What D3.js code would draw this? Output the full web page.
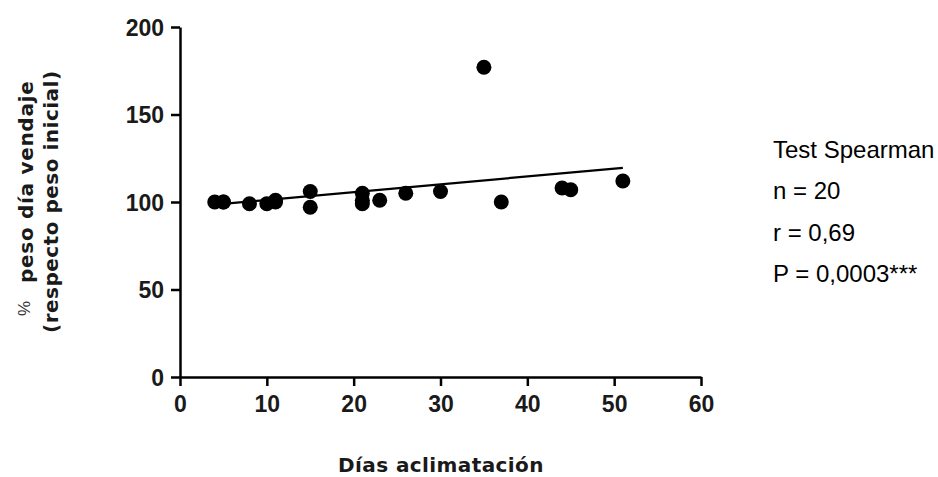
<!DOCTYPE html>
<html>
  <head>
    <meta charset="utf-8">
    <title>Peso día vendaje vs días aclimatación</title>
    <script src="https://d3js.org/d3.v7.min.js"></script>
    <style>
      body { margin: 0; background: #fff; }
      #chart { width: 938px; height: 477px; display: block; }
      .axis path, .axis line { stroke: #000; stroke-width: 2.5px; }
      .axis text { font-family: "Liberation Sans", Arial, sans-serif; font-weight: bold; font-size: 23px; fill: #1a1a1a; }
      .title { font-family: "DejaVu Sans", sans-serif; font-weight: bold; fill: #1a1a1a; }
      .stats { font-family: "Liberation Sans", Arial, sans-serif; font-size: 24px; fill: #000; }
    </style>
  </head>
  <body>
    <svg id="chart">
      <g id="xAxisGroup" class="axis"></g>
      <g id="yAxisGroup" class="axis"></g>
      <g id="chartGroup"></g>
      <g id="labelGroup"></g>
    </svg>
    <script>
      // data
      var dias = [4, 5, 5, 8, 10, 11, 11, 15, 15, 21, 21, 21, 23, 26, 30, 35, 37, 44, 45, 51];
      var peso = [100, 100, 100, 99, 99, 100, 101, 106, 97, 105, 101, 99, 101, 105, 106, 177, 100, 108, 107, 112];
      var fitX = [4, 51];
      var fitY = [98.5, 119.5];
      var xTicks = [0, 10, 20, 30, 40, 50, 60];
      var yTicks = [0, 50, 100, 150, 200];
      var statLines = ["Test Spearman", "n = 20", "r = 0,69", "P = 0,0003***"];

      var points = dias.map(function(d, i) { return { x: d, y: peso[i] }; });
      var fit = fitX.map(function(d, i) { return { x: d, y: fitY[i] }; });

      var chartGroup = d3.select("#chartGroup");
      var labelGroup = d3.select("#labelGroup");

      var x = d3.scaleLinear().domain([0, 60]).range([180, 701]);
      var y = d3.scaleLinear().domain([0, 200]).range([377, 27]);

      var xAxis = d3.axisBottom(x)
        .tickValues(xTicks)
        .tickSizeInner(9)
        .tickSizeOuter(0);
      var yAxis = d3.axisLeft(y)
        .tickValues(yTicks)
        .tickSizeInner(9)
        .tickSizeOuter(0)
        .tickPadding(7);

      d3.select("#xAxisGroup")
        .attr("transform", "translate(0," + y(0) + ")")
        .call(xAxis);
      d3.select("#yAxisGroup")
        .attr("transform", "translate(" + x(0) + ",0)")
        .call(yAxis);
      d3.select("#xAxisGroup").selectAll("text").attr("dy", null).attr("y", 35);
      d3.select("#yAxisGroup").selectAll("text").attr("dy", "0.36em");

      // fitted line
      var line = d3.line()
        .x(function(d) { return x(d.x); })
        .y(function(d) { return y(d.y); });
      chartGroup.append("path")
        .attr("d", line(fit))
        .attr("fill", "none")
        .attr("stroke", "#000")
        .attr("stroke-width", 2.2);

      chartGroup.selectAll("circle")
        .data(points)
        .enter().append("circle")
          .attr("cx", function(d) { return x(d.x); })
          .attr("cy", function(d) { return y(d.y); })
          .attr("r", 7.5)
          .attr("fill", "#000");

      // axis titles
      labelGroup.append("text")
        .attr("class", "title")
        .attr("x", 441)
        .attr("y", 472)
        .attr("text-anchor", "middle")
        .style("font-size", "20px")
        .style("letter-spacing", "0.4px")
        .text("Días aclimatación");

      labelGroup.append("text")
        .attr("transform", "translate(30,316) rotate(-90)")
        .style("font-family", "Liberation Sans, Arial, sans-serif")
        .style("font-size", "17px")
        .style("fill", "#333")
        .text("%");

      labelGroup.append("text")
        .attr("class", "title")
        .attr("transform", "translate(33,283) rotate(-90)")
        .style("font-size", "20px")
        .style("letter-spacing", "0.7px")
        .text("peso día vendaje");

      labelGroup.append("text")
        .attr("class", "title")
        .attr("transform", "translate(58,333) rotate(-90)")
        .style("font-size", "20px")
        .style("letter-spacing", "0.5px")
        .text("(respecto peso inicial)");

      // statistics block
      labelGroup.selectAll(".stats")
        .data(statLines)
        .enter().append("text")
          .attr("class", "stats")
          .attr("x", 773)
          .attr("y", function(d, i) { return 158 + i * 41.3; })
          .text(function(d) { return d; });
    </script>
  </body>
</html>
